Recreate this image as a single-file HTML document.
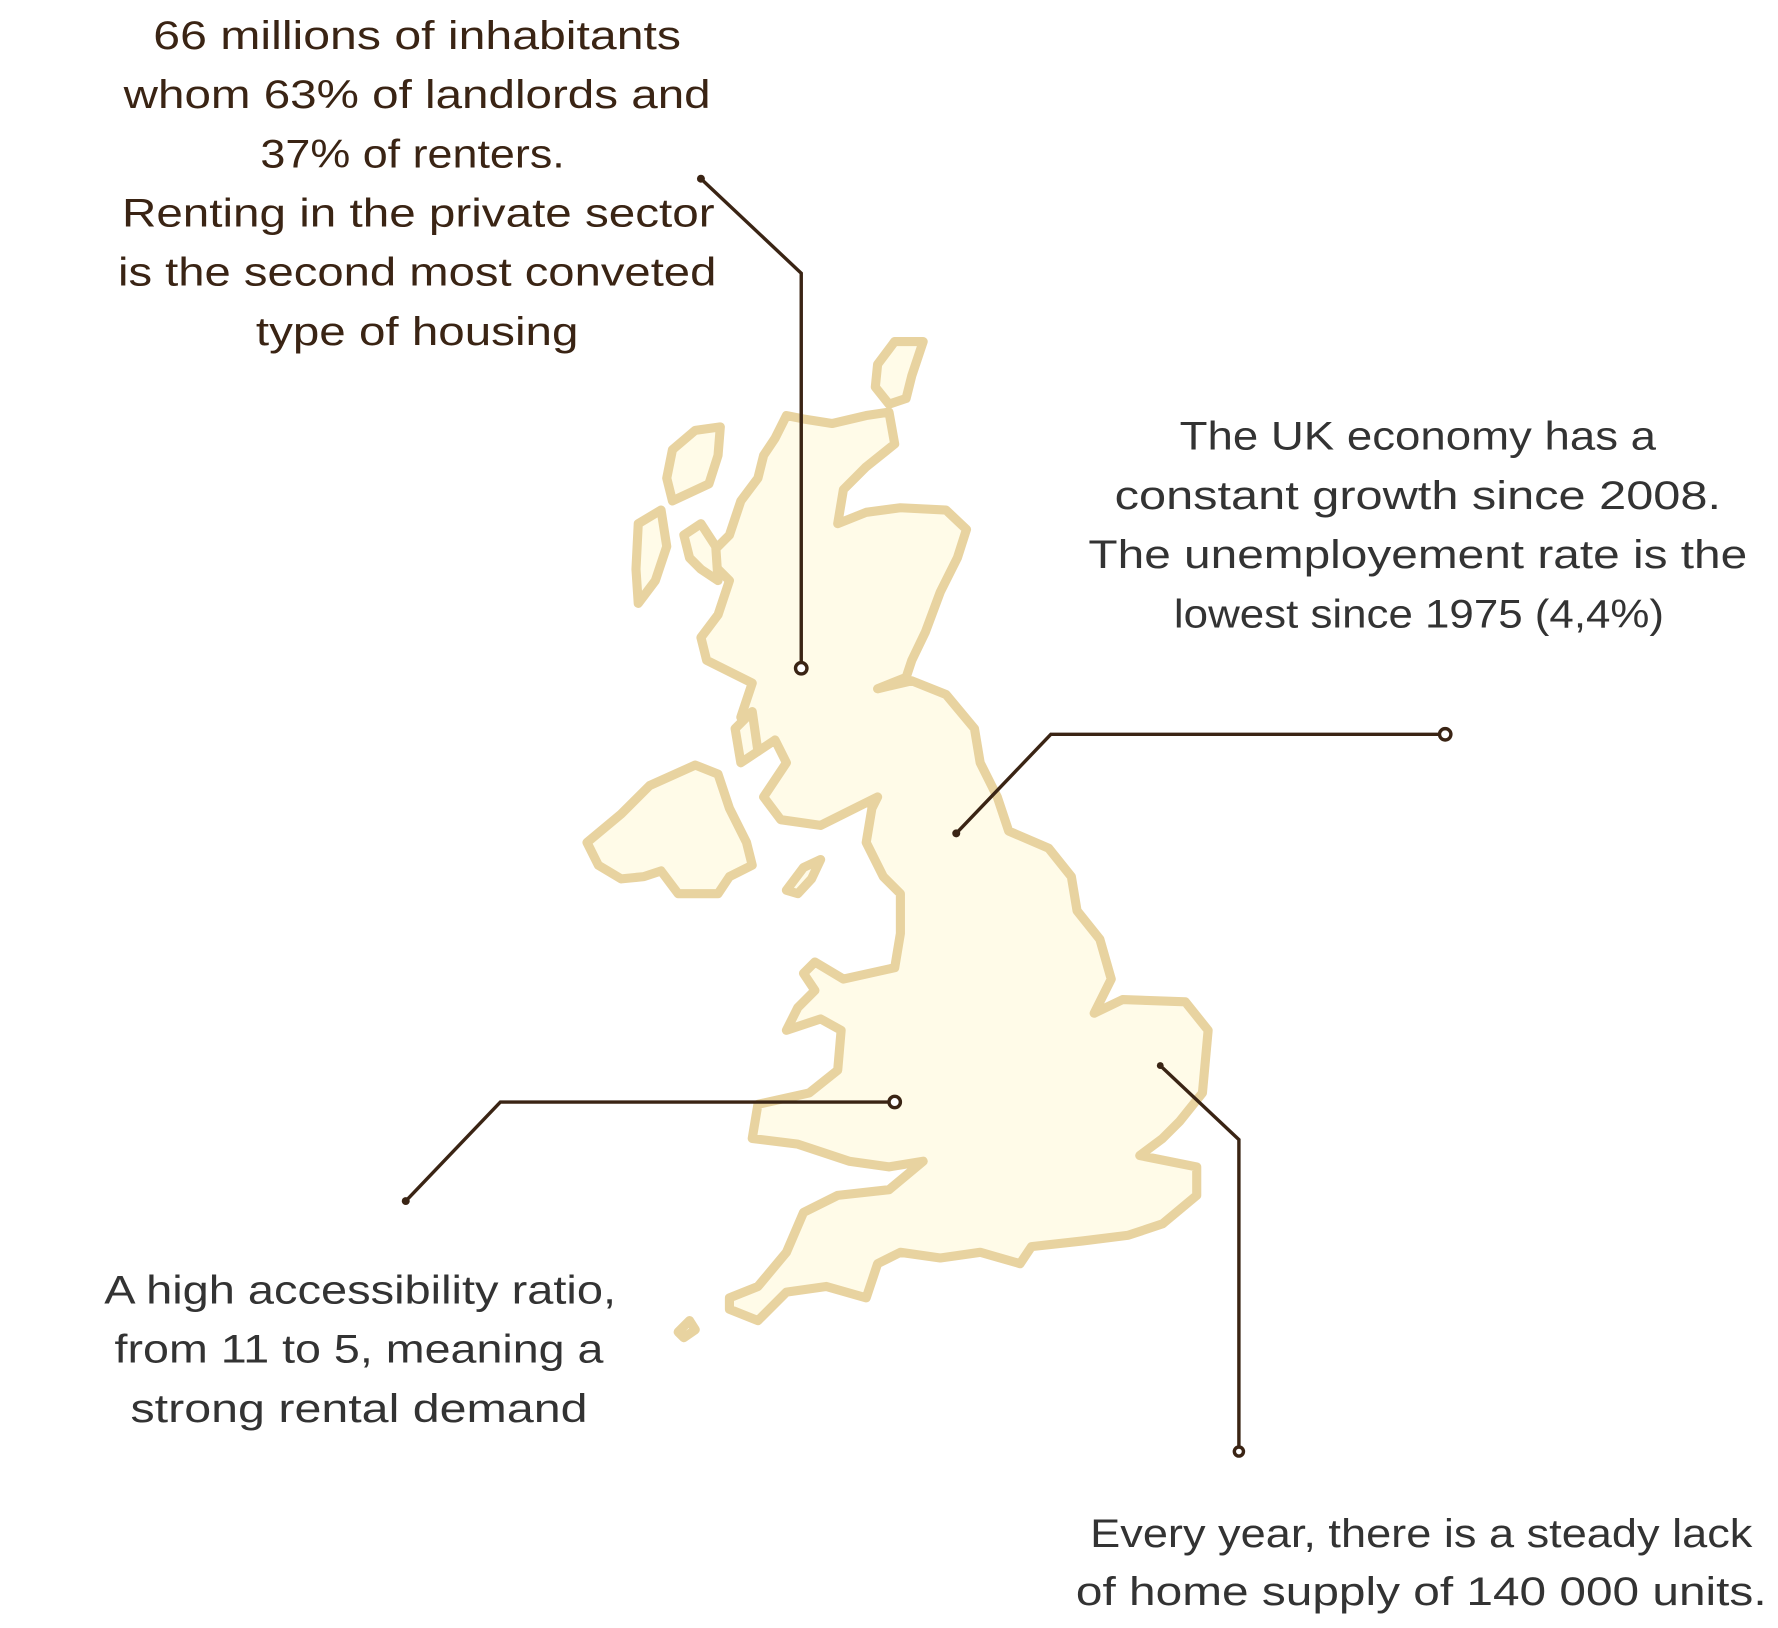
<!DOCTYPE html>
<html><head><meta charset="utf-8"><style>
html,body{margin:0;padding:0;background:#fff;width:1778px;height:1628px;overflow:hidden}
svg{display:block}
text{font-family:"Liberation Sans",sans-serif;font-size:35px;text-anchor:middle}
</style></head><body>
<svg width="1778" height="1628" viewBox="0 0 1560 1430" preserveAspectRatio="none">
<g fill="#fffbe8" stroke="#e8d3a0" stroke-width="8" stroke-linejoin="round" stroke-linecap="round">
<path d="M690,365 L705,368 L730,372 L760,365 L780,362 L785,390 L760,410 L740,430 L735,460 L760,450 L790,446 L830,448 L848,465 L840,490 L825,520 L812,555 L800,580 L795,595 L770,605 L800,598 L830,610 L855,640 L860,670 L875,700 L885,730 L920,745 L940,770 L945,800 L965,825 L975,860 L960,890 L985,878 L1040,880 L1060,905 L1055,960 L1035,985 L1020,1000 L1000,1015 L1050,1025 L1050,1050 L1020,1075 L990,1085 L950,1090 L905,1095 L895,1110 L860,1100 L825,1105 L790,1100 L770,1110 L760,1140 L725,1130 L690,1135 L665,1160 L640,1150 L640,1140 L665,1130 L690,1100 L705,1065 L735,1050 L780,1045 L810,1020 L780,1025 L745,1020 L700,1005 L660,1000 L665,970 L710,960 L735,940 L738,905 L720,895 L690,905 L700,885 L715,870 L705,855 L715,845 L740,860 L785,850 L790,820 L790,785 L775,770 L760,740 L765,710 L770,700 L740,715 L720,725 L685,720 L670,700 L690,670 L680,650 L665,660 L650,630 L660,600 L640,590 L620,580 L615,560 L630,540 L640,510 L620,490 L640,470 L650,440 L665,420 L670,400 L680,385 Z"/>
<path d="M515,740 L545,715 L570,690 L610,672 L630,680 L640,710 L655,740 L660,760 L640,770 L630,785 L595,785 L580,765 L565,770 L545,772 L525,760 Z"/>
<path d="M770,320 L785,300 L810,300 L800,330 L795,350 L780,355 L768,340 Z"/>
<path d="M590,395 L610,378 L632,375 L630,400 L622,425 L590,440 L585,420 Z"/>
<path d="M560,460 L580,448 L585,480 L575,510 L560,530 L558,500 Z"/>
<path d="M600,470 L615,460 L628,480 L630,510 L615,500 L605,490 Z"/>
<path d="M690,782 L705,762 L720,755 L712,772 L700,785 Z"/>
<path d="M645,640 L660,625 L665,660 L650,670 Z"/>
<path d="M595,1170 L605,1160 L610,1168 L600,1175 Z"/>
</g>
<g stroke="#3a2414" stroke-width="3" fill="none">
<polyline points="615,157 703,240 703,587"/>
<polyline points="1268,645 922,645 839,732"/>
<polyline points="785,968 439,968 356,1055"/>
<polyline points="1018,936 1087,1001 1087,1275"/>
<circle cx="703" cy="587" r="5" fill="#fff"/>
<circle cx="1268" cy="645" r="5" fill="#fff"/>
<circle cx="785" cy="968" r="5" fill="#fff"/>
<circle cx="1087" cy="1275" r="4" fill="#fff"/>
</g>
<g fill="#3a2414">
<circle cx="615" cy="157" r="3.5"/><circle cx="839" cy="732" r="3.5"/><circle cx="356" cy="1055" r="3.5"/><circle cx="1018" cy="936" r="3"/>
</g>
<g fill="#3a2414">
<text x="366" y="43" textLength="463" lengthAdjust="spacingAndGlyphs">66 millions of inhabitants</text>
<text x="366" y="95" textLength="515" lengthAdjust="spacingAndGlyphs">whom 63% of landlords and</text>
<text x="362" y="147" textLength="267" lengthAdjust="spacingAndGlyphs">37% of renters.</text>
<text x="367" y="199" textLength="520" lengthAdjust="spacingAndGlyphs">Renting in the private sector</text>
<text x="366" y="251" textLength="525" lengthAdjust="spacingAndGlyphs">is the second most conveted</text>
<text x="366" y="303" textLength="283" lengthAdjust="spacingAndGlyphs">type of housing</text>
</g>
<g fill="#333">
<text x="1244" y="395" textLength="418" lengthAdjust="spacingAndGlyphs">The UK economy has a</text>
<text x="1244" y="447" textLength="532" lengthAdjust="spacingAndGlyphs">constant  growth since 2008.</text>
<text x="1244" y="499" textLength="578" lengthAdjust="spacingAndGlyphs">The unemployement rate is the</text>
<text x="1245" y="551" textLength="430" lengthAdjust="spacingAndGlyphs">lowest since 1975 (4,4%)</text>
</g>
<g fill="#333">
<text x="316" y="1145" textLength="449" lengthAdjust="spacingAndGlyphs">A high accessibility ratio,</text>
<text x="315" y="1197" textLength="429" lengthAdjust="spacingAndGlyphs">from 11 to 5,  meaning a</text>
<text x="315" y="1249" textLength="401" lengthAdjust="spacingAndGlyphs">strong rental demand</text>
</g>
<g fill="#333">
<text x="1247" y="1359" textLength="581" lengthAdjust="spacingAndGlyphs">Every year, there is a steady lack</text>
<text x="1247" y="1410" textLength="606" lengthAdjust="spacingAndGlyphs">of home supply of  140 000 units.</text>
</g>
</svg>
</body></html>
